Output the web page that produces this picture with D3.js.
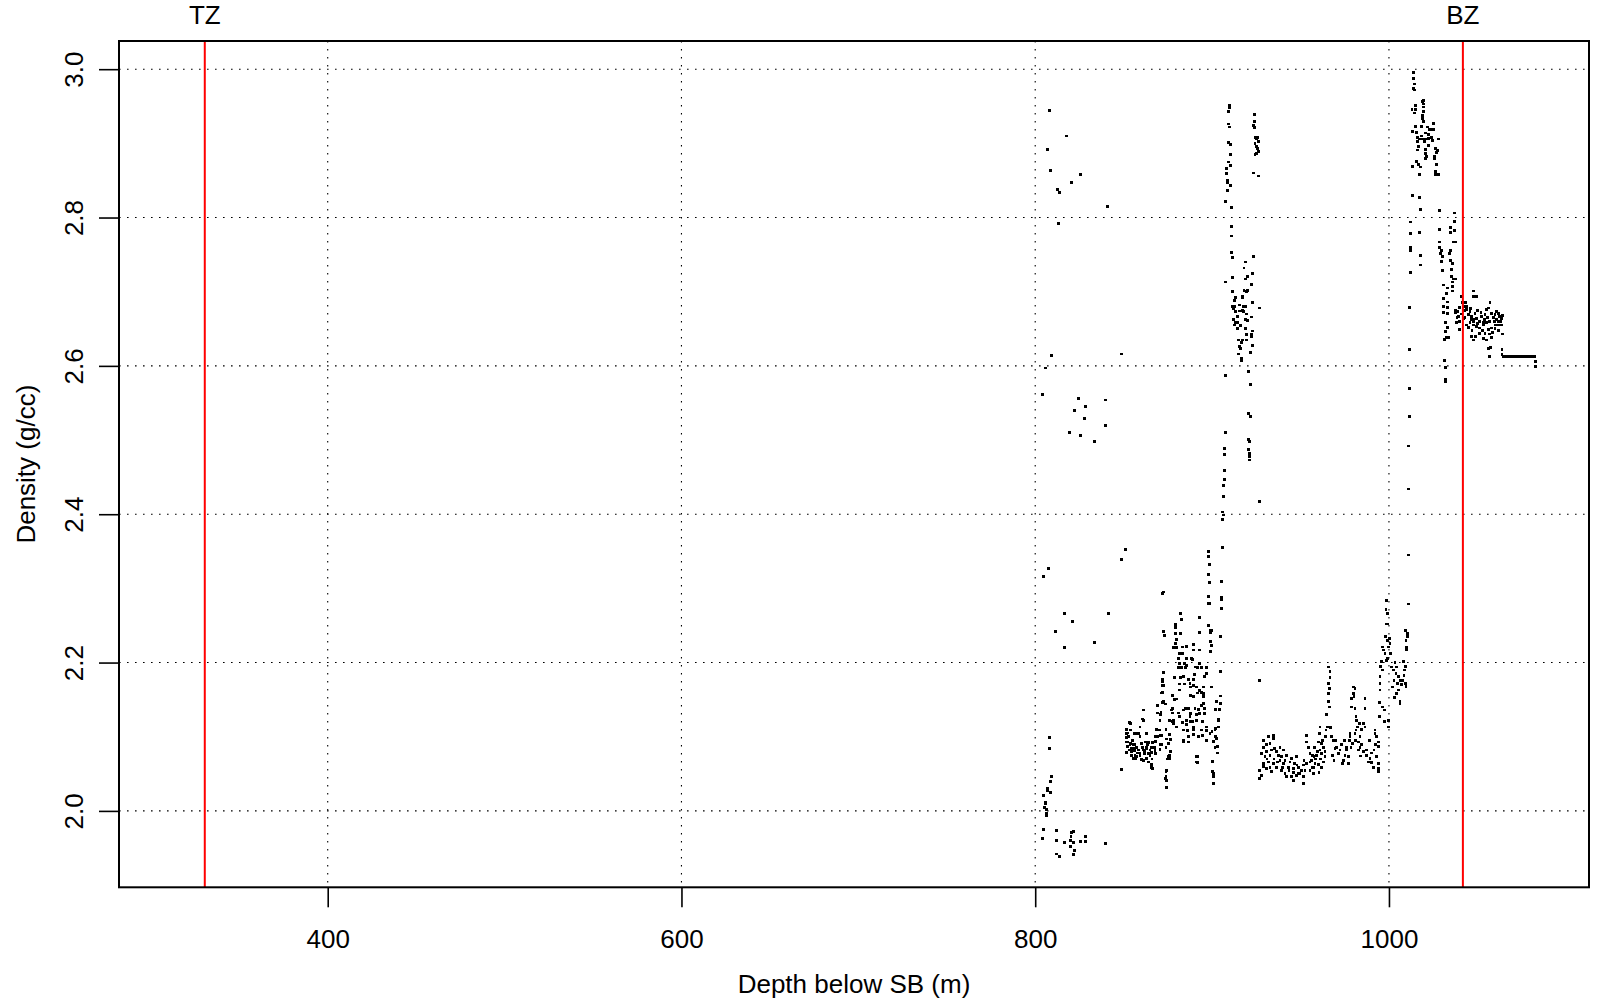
<!DOCTYPE html>
<html><head><meta charset="utf-8">
<script src="https://cdn.jsdelivr.net/npm/d3@7"></script>
<style>body{margin:0;background:#fff}svg{display:block}text{font-family:"Liberation Sans",Arial,Helvetica,sans-serif;fill:#000}</style>
</head><body>
<svg id="chart" width="1599" height="1004"></svg>
<script>
// ---------- axis setup ----------
const xTicks = [400, 600, 800, 1000];
const yTicks = [2.0, 2.2, 2.4, 2.6, 2.8, 3.0];
const xLimits = [282.0, 1113.1];
const yLimits = [1.897, 3.038];
const xTitle = "Depth below SB (m)";
const yTitle = "Density (g/cc)";
const zoneNames = ["TZ", "BZ"];
const zoneDepths = [330.5, 1041.8];

// ---------- data: [depth (m), density (g/cc)] ----------
const pts800 = [
[807.9,2.944],[817.5,2.910],[806.8,2.892],[808.5,2.863],[825.4,2.858],[820.4,2.847],[812.4,2.838],[813.6,2.834],[840.7,2.815],[813.0,2.792],
[809.0,2.614],[848.6,2.616],[805.7,2.597],[804.0,2.561],[824.3,2.556],[839.6,2.554],[828.3,2.545],[822.0,2.540],[827.7,2.529],[839.6,2.520],[819.2,2.510],[825.4,2.506],[833.4,2.498],
[850.9,2.352],[848.6,2.339],[807.3,2.327],[804.5,2.316],[872.5,2.295],[872.0,2.293],[816.4,2.266],[841.3,2.266],[820.9,2.255],[811.3,2.242],[833.4,2.227],[816.4,2.220],
[807.9,2.099],[807.9,2.084],[809.0,2.046],[808.5,2.040],[806.8,2.031],[806.8,2.028],[808.5,2.025],[804.5,2.021],[805.7,2.012],[805.7,2.010],[805.1,2.005],[806.2,2.002],[806.2,1.996],[806.2,1.994],
[804.5,1.975],[804.0,1.963],[811.9,1.974],[811.9,1.960],[816.4,1.957],[820.4,1.971],[821.5,1.972],[820.2,1.965],[819.8,1.960],[821.5,1.957],[825.4,1.959],[828.3,1.965],[828.3,1.959],
[819.8,1.952],[822.0,1.947],[821.5,1.941],[811.9,1.942],[813.6,1.939],[839.6,1.956]
];

const pts850 = [
[882.3,2.266],[882.9,2.258],[892.7,2.261],[879.3,2.251],[879.3,2.247],[872.5,2.242],[873.1,2.236],[879.3,2.239],[882.2,2.239],[892.7,2.240],[899.5,2.243],
[879.9,2.231],[879.3,2.226],[878.2,2.220],[879.9,2.220],[883.3,2.221],[885.5,2.222],[889.3,2.224],[889.3,2.217],[892.7,2.217],[898.9,2.228],[899.5,2.223],[898.9,2.215],
[881.4,2.212],[883.3,2.212],[881.0,2.205],[885.5,2.205],[888.2,2.205],[888.9,2.204],[881.4,2.199],[884.4,2.199],[881.0,2.193],[882.7,2.193],[885.0,2.193],[891.6,2.193],[893.8,2.193],[896.9,2.193],
[904.6,2.188],[872.4,2.187],[890.1,2.184],[895.7,2.181],[878.6,2.180],[882.0,2.180],[872.0,2.177],[872.0,2.169],[886.7,2.177],[889.5,2.177],[881.6,2.171],[884.4,2.171],
[887.8,2.167],[889.5,2.169],[891.2,2.167],[895.2,2.167],[899.5,2.167],[892.9,2.162],[894.0,2.160],[895.2,2.158],[891.8,2.159],[871.2,2.159],[887.6,2.156],[889.5,2.154],[877.4,2.156],[904.6,2.155],
[879.9,2.151],[878.6,2.150],[902.3,2.147],[904.6,2.145],[869.0,2.142],[893.8,2.142],[873.7,2.144],[872.0,2.146],[877.4,2.138],[861.1,2.136],[884.8,2.138],[886.7,2.138],[890.3,2.138],[892.3,2.137],
[895.5,2.138],[895.5,2.131],[901.8,2.137],[904.0,2.137],[869.0,2.132],[877.8,2.132],[880.8,2.132],[887.6,2.131],[891.4,2.130],[860.7,2.124],[870.8,2.130],[875.9,2.122],[877.6,2.120],[878.2,2.118],
[888.9,2.121],[887.6,2.121],[883.3,2.119],[885.4,2.116],[903.6,2.124],[903.6,2.113],[894.6,2.120],[853.5,2.119],[859.2,2.113],[868.4,2.110],[873.9,2.110],[883.7,2.109],[885.9,2.108],
[889.3,2.110],[893.8,2.109],[896.9,2.108],[899.9,2.107],[902.1,2.111],[851.4,2.110],[853.7,2.109],[871.2,2.102],[875.7,2.103],[889.3,2.103],[892.3,2.100],[894.6,2.102],[901.9,2.100],
[876.7,2.096],[852.0,2.105],[851.6,2.099],[852.0,2.093],[856.3,2.104],[857.8,2.104],[853.9,2.091],[855.6,2.089],[862.4,2.093],[864.1,2.092],[866.3,2.092],[867.8,2.094],[869.0,2.100],[874.2,2.097],
[883.7,2.093],[886.7,2.093],[896.9,2.095],[900.6,2.094],[902.9,2.087],[860.7,2.086],[862.9,2.084],[865.8,2.086],[867.6,2.085],[854.5,2.084],[856.3,2.081],[858.6,2.082],[870.5,2.083],[873.9,2.085],
[876.5,2.080],[876.1,2.075],[851.6,2.079],[861.6,2.077],[864.1,2.077],[865.8,2.079],[902.9,2.078],[854.5,2.075],[857.3,2.073],[859.2,2.075],[874.8,2.070],[862.9,2.071],[865.8,2.063],[866.3,2.057],
[891.6,2.073],[891.6,2.065],[900.2,2.067],[900.2,2.053],[861.1,2.068],[848.8,2.056],[873.9,2.053],[873.7,2.044],[873.9,2.031],[900.6,2.046],[900.8,2.037],
[851.3,2.110],[851.7,2.104],[853.9,2.118],[852.8,2.100],[851.7,2.093],[853.6,2.089],[855.4,2.084],[857.3,2.086],[860.2,2.091],[863.0,2.086],[864.9,2.082],[867.7,2.084],[870.5,2.089],
[854.5,2.080],[856.4,2.075],[859.2,2.077],[862.0,2.080],[864.9,2.075],[867.7,2.080],[855.4,2.071],[860.2,2.069],[863.9,2.066],[865.8,2.059],[859.2,2.100],[861.1,2.122],[863.0,2.104],
[858.3,2.104],[867.7,2.100],[870.5,2.102],[871.5,2.089],
[853.0,2.082],[856.0,2.090],[858.0,2.078],[861.0,2.082],[863.5,2.090],[866.0,2.070],[868.0,2.077],[852.0,2.087],[855.0,2.095],[857.0,2.070],
[872.4,2.187],[872.0,2.174],[872.4,2.169],[872.0,2.160],[872.4,2.147],[871.1,2.133],[870.5,2.122],[870.1,2.109],[875.2,2.091],[875.2,2.073],[876.2,2.071],[874.3,2.055],[873.9,2.046],[874.3,2.041],[874.3,2.032],
[877.1,2.136],[878.1,2.122],[880.0,2.113],[881.8,2.127],[883.7,2.136],[885.6,2.122],[887.5,2.127],[889.4,2.113],[891.2,2.122],[893.1,2.131],[895.0,2.145],[896.9,2.113],[898.8,2.104],[901.6,2.109],
[903.5,2.122],[902.6,2.098],[901.6,2.086],[900.7,2.050],[900.7,2.037],[891.2,2.073],[891.2,2.066],[883.7,2.095],[886.5,2.100],[881.8,2.163],[883.7,2.181],[887.5,2.172],[893.1,2.163],[895.0,2.154],
[896.9,2.185],[881.8,2.194],[885.6,2.196],[890.3,2.194],[893.1,2.199]
];

const pts905 = [
[905.7,2.355],[897.8,2.350],[897.8,2.343],[898.4,2.332],[897.8,2.319],[905.1,2.309],[898.4,2.308],[897.8,2.289],[905.1,2.288],[905.1,2.285],[897.8,2.280],[898.4,2.280],[905.1,2.273],[897.8,2.250],[898.9,2.244],[898.9,2.240],[904.6,2.235],
[909.7,2.951],[909.7,2.948],[909.1,2.943],[909.1,2.926],[909.7,2.922],[909.1,2.901],[910.2,2.898],[910.2,2.885],[909.1,2.875],[910.2,2.870],[908.0,2.866],[908.0,2.859],[908.5,2.850],[908.5,2.847],[910.2,2.843],[908.5,2.836],[907.4,2.822],[910.8,2.814],
[910.8,2.788],[910.8,2.775],[910.8,2.753],[911.4,2.746],[911.4,2.719],[907.4,2.713],
[923.8,2.939],[923.8,2.929],[923.2,2.924],[923.8,2.921],[924.3,2.908],[925.5,2.908],[924.9,2.906],[924.3,2.900],[926.1,2.902],[924.9,2.896],[925.5,2.893],[926.1,2.889],[924.9,2.886],[924.3,2.885],[923.2,2.860],[926.1,2.856],
[923.2,2.747],[918.7,2.740],[918.1,2.732],[922.7,2.725],[919.8,2.720],[918.7,2.717],[922.1,2.710],[918.1,2.702],[919.8,2.702],[919.3,2.700],[911.4,2.700],[917.0,2.694],[917.0,2.692],[913.1,2.692],
[912.5,2.688],[922.7,2.685],[915.3,2.682],[911.4,2.680],[912.5,2.680],[917.6,2.680],[918.7,2.680],[926.6,2.678],[911.9,2.677],[917.0,2.675],[915.3,2.674],[913.1,2.673],[917.6,2.673],[919.3,2.670],
[914.2,2.667],[918.7,2.663],[922.1,2.666],[911.9,2.663],[919.8,2.661],[913.1,2.658],[914.2,2.658],[912.5,2.655],[915.9,2.654],[914.2,2.650],[918.7,2.650],[922.7,2.647],[922.1,2.642],[922.1,2.639],
[919.3,2.642],[914.8,2.635],[917.0,2.635],[919.3,2.635],[916.5,2.631],[915.3,2.626],[915.9,2.623],[922.7,2.628],[914.8,2.616],[921.5,2.618],[916.5,2.610],[916.5,2.607],
[907.4,2.587],[920.4,2.592],[921.5,2.575],[920.4,2.536],[921.5,2.532],[907.4,2.510],[920.4,2.501],[921.0,2.498],[906.8,2.489],[906.8,2.481],[920.4,2.487],[921.0,2.482],[921.0,2.478],[921.0,2.473],
[906.8,2.459],[906.8,2.447],[906.3,2.439],[906.3,2.424],[926.6,2.417],[905.7,2.403],[906.3,2.399],[905.7,2.393]
];

const pts926 = [
[926.7,2.176],[934.6,2.102],[934.6,2.098],[928.9,2.086],[930.8,2.089],[932.7,2.091],[935.5,2.084],[938.4,2.086],[940.2,2.082],
[928.0,2.077],[929.9,2.073],[932.7,2.075],[936.5,2.080],[939.3,2.073],[942.1,2.075],[944.9,2.071],[947.8,2.073],
[928.9,2.064],[931.8,2.066],[934.6,2.064],[940.2,2.064],[943.1,2.059],[945.9,2.057],[948.7,2.059],
[927.0,2.055],[928.0,2.048],[927.0,2.044],[933.6,2.053],[941.2,2.050],[944.9,2.046],[947.8,2.048],
[930.8,2.080],[933.6,2.082],[937.4,2.075],[941.2,2.068],[944.0,2.066],[946.8,2.064],[930.8,2.057],[936.5,2.059],[939.3,2.055],[942.1,2.046],[945.9,2.041],[948.7,2.050],[938.4,2.068],[932.7,2.059],[928.9,2.095],[931.8,2.100],
[956.0,2.068],[958.5,2.070],[960.0,2.063],[961.5,2.070],[963.0,2.066],[959.5,2.080],[962.5,2.095],[964.0,2.100],[958.0,2.085],[956.5,2.058],[960.5,2.052],[962.0,2.058],[950.5,2.055],[952.0,2.068],
[948.0,2.062],[946.0,2.052],[943.5,2.054],[940.0,2.058],[937.0,2.066],[935.0,2.070],[931.0,2.070],[929.0,2.060],
[970.0,2.095],[973.0,2.090],[975.0,2.095],[978.5,2.085],[981.0,2.095],[984.5,2.090],[987.5,2.082],[990.0,2.078],[992.5,2.090],[989.0,2.095],
[1010.9,2.492],[1010.9,2.434],[1010.9,2.345],[1010.9,2.279],
[1009.2,2.243],[1010.4,2.239],[1010.4,2.235],[1009.6,2.230],[1009.8,2.221],[1009.8,2.218],
[998.7,2.284],[998.3,2.271],[999.1,2.266],[998.3,2.252],[999.1,2.252],
[998.1,2.235],[999.1,2.230],[1000.2,2.232],[1000.6,2.226],[999.6,2.221],
[996.4,2.221],[996.8,2.217],[997.8,2.212],[1000.9,2.212],[999.1,2.206],[998.7,2.203],
[995.7,2.201],[995.3,2.195],[996.4,2.190],[994.9,2.181],[994.9,2.172],[994.9,2.163],
[1001.5,2.194],[1002.4,2.190],[1003.4,2.200],[1004.3,2.194],[1004.0,2.185],[1005.3,2.181],[1002.8,2.176],[1004.7,2.172],[1006.2,2.176],[1007.2,2.170],[1007.7,2.176],[1008.5,2.183],[1009.0,2.190],[1008.1,2.201],[1009.2,2.195],
[1002.1,2.167],[1003.0,2.153],[1004.3,2.158],[1006.2,2.147],[1006.2,2.145],[1005.5,2.163],[1009.2,2.172],[1009.6,2.168],
[994.5,2.146],[996.4,2.140],[997.4,2.136],[994.5,2.127],[997.4,2.120],[999.8,2.113],[999.6,2.122],
[992.1,2.109],[992.1,2.104],[993.0,2.100],[994.2,2.093],[994.2,2.087],[991.5,2.082],[993.0,2.073],[994.2,2.064],[991.1,2.059],[994.0,2.057],[994.0,2.053],
[985.5,2.118],[986.4,2.113],[984.6,2.110],[983.6,2.100],[982.7,2.093],[983.6,2.086],[982.7,2.082],[985.5,2.080],[984.0,2.074],[987.4,2.075],[989.3,2.071],[988.3,2.066],[990.2,2.065],
[979.8,2.167],[980.8,2.165],[979.8,2.158],[978.9,2.152],[980.2,2.154],[978.9,2.140],[980.8,2.138],[981.4,2.127],[981.7,2.122],[983.2,2.118],[982.1,2.113],[981.4,2.109],
[986.4,2.152],[986.4,2.138],
[980.8,2.104],[978.0,2.104],[978.0,2.100],[977.6,2.095],[979.5,2.091],[976.1,2.086],[976.1,2.082],[975.1,2.075],[974.2,2.068],[977.0,2.073],[977.0,2.064],[973.6,2.064],[970.4,2.086],[972.3,2.082],[971.4,2.077],[969.5,2.084],[968.5,2.095],[967.6,2.100],[968.2,2.075],[968.9,2.068],
[965.7,2.194],[966.7,2.188],[966.7,2.180],[965.7,2.172],[966.3,2.165],[965.7,2.158],[965.7,2.147],[966.3,2.140],[964.8,2.130],[965.2,2.113],[967.0,2.112],[964.4,2.109],
[961.0,2.113],[960.6,2.104],[960.1,2.093],[962.0,2.091],[962.9,2.086],[963.8,2.080],[961.0,2.082],[959.1,2.075],[962.0,2.077],[963.8,2.073],
[953.5,2.102],[953.5,2.093],[954.4,2.086],[955.4,2.077],[956.9,2.075],[957.6,2.073],[958.2,2.064],[955.4,2.066],[957.2,2.059],[953.5,2.064],[951.6,2.062],[952.5,2.055],[955.4,2.055],[957.2,2.050],[951.6,2.046],[951.6,2.037],[949.7,2.050]
];

const pts1010 = [
[1013.8,2.996],[1013.8,2.987],[1014.3,2.980],[1013.8,2.974],[1014.3,2.972],
[1014.9,2.951],[1013.0,2.946],[1014.9,2.946],[1014.3,2.941],
[1019.4,2.958],[1018.8,2.956],[1019.4,2.953],[1019.4,2.949],[1019.4,2.943],[1018.8,2.938],[1018.8,2.933],[1019.4,2.929],
[1014.9,2.923],[1018.3,2.923],[1013.2,2.916],[1015.5,2.915],
[1021.7,2.922],[1022.8,2.919],[1023.9,2.919],[1025.1,2.927],[1025.1,2.919],
[1020.5,2.914],[1022.2,2.912],[1018.3,2.910],[1016.0,2.908],[1017.1,2.906],[1018.8,2.906],[1020.5,2.906],[1022.2,2.907],[1023.9,2.908],[1024.5,2.904],[1020.0,2.902],[1027.9,2.906],
[1016.0,2.902],[1016.6,2.896],[1016.0,2.891],[1022.2,2.897],[1020.5,2.892],[1026.2,2.893],[1027.3,2.890],[1026.8,2.888],
[1020.5,2.886],[1021.3,2.882],[1020.5,2.880],[1025.6,2.882],[1025.6,2.879],
[1015.5,2.876],[1013.2,2.869],[1016.6,2.872],[1017.7,2.868],[1026.8,2.872],
[1017.1,2.858],[1026.2,2.862],[1026.2,2.858],[1027.9,2.858],
[1013.2,2.830],[1017.1,2.827],[1017.7,2.811],[1028.5,2.809],
[1036.9,2.806],[1036.9,2.795],[1034.7,2.787],[1036.9,2.782],[1034.7,2.780],
[1012.4,2.794],[1012.4,2.779],[1017.1,2.780],[1028.5,2.784],
[1028.5,2.767],[1028.5,2.760],[1029.6,2.756],[1029.0,2.752],
[1036.4,2.767],[1037.5,2.767],[1034.7,2.756],[1034.1,2.752],
[1012.1,2.760],[1012.1,2.756],[1017.7,2.749],[1017.7,2.736],
[1030.1,2.747],[1029.6,2.741],[1034.7,2.742],[1035.8,2.738],[1035.2,2.730],[1030.1,2.729],
[1035.2,2.721],[1036.4,2.717],[1037.5,2.717],[1035.8,2.713],[1035.8,2.707],[1012.1,2.726],
[1030.7,2.709],[1033.0,2.705],[1032.6,2.698],[1035.8,2.701],[1040.9,2.694],[1030.7,2.691],[1033.0,2.686],
[1047.9,2.701],[1047.7,2.694],[1049.6,2.693],[1011.5,2.679],
[1030.7,2.680],[1033.0,2.679],[1030.7,2.672],[1033.0,2.671],
[1041.5,2.685],[1043.3,2.685],[1042.0,2.680],[1039.8,2.679],[1038.6,2.673],[1037.5,2.672],
[1043.9,2.676],[1045.8,2.673],[1044.8,2.669],[1046.7,2.667],[1048.6,2.671],[1047.7,2.662],[1049.6,2.664],[1052.4,2.667],[1054.3,2.669],[1055.2,2.676],[1056.2,2.678],[1057.1,2.685],
[1058.0,2.671],[1059.9,2.669],[1060.9,2.673],[1061.8,2.671],[1062.7,2.667],[1063.7,2.664],[1061.8,2.660],[1059.9,2.655],[1062.7,2.655],
[1039.2,2.667],[1040.1,2.660],[1038.3,2.658],[1039.8,2.649],[1042.0,2.664],
[1045.8,2.658],[1047.7,2.655],[1049.6,2.653],[1051.4,2.651],[1053.3,2.655],[1055.2,2.658],[1056.2,2.649],[1058.0,2.651],[1051.4,2.644],[1054.3,2.644],
[1046.7,2.640],[1047.7,2.635],[1053.3,2.637],[1055.2,2.635],[1058.6,2.645],[1064.1,2.643],
[1044.0,2.680],[1046.0,2.677],[1050.0,2.675],[1052.0,2.672],[1054.0,2.662],[1057.0,2.660],[1059.0,2.665],[1061.0,2.662],[1063.0,2.660],[1048.0,2.660],[1050.0,2.657],[1043.0,2.665],
[1041.0,2.670],[1045.0,2.652],[1053.0,2.648],[1057.0,2.643],[1060.0,2.650],[1062.0,2.648],[1064.0,2.668],[1058.0,2.638],[1049.0,2.640],[1044.0,2.655],[1040.0,2.678],[1037.5,2.675],
[1042.5,2.675],[1046.5,2.662],[1051.0,2.660],[1055.5,2.665],[1059.5,2.660],[1063.5,2.655],[1038.5,2.665],[1047.0,2.648],[1053.5,2.658],[1061.0,2.655],
[1031.8,2.658],[1033.0,2.652],[1031.8,2.646],[1032.6,2.638],[1033.5,2.638],[1031.3,2.636],
[1057.3,2.625],[1056.3,2.623],[1056.7,2.613],[1063.9,2.622],[1063.9,2.615],
[1082.7,2.606],[1082.7,2.599],[1011.5,2.622],[1031.3,2.607],[1031.8,2.598],[1031.8,2.582],[1031.8,2.579],
[1011.5,2.570],[1011.5,2.532],[1010.9,2.492]
];

// constant-value run at the bottom of the log
const flatDepths = [1064.6,1065.2,1065.8,1066.4,1067.0,1067.6,1068.2,1068.8,1069.4,1070.0,1070.6,1071.2,1071.8,1072.4,1073.0,1073.6,1074.2,1074.8,1075.4,1076.0,1076.6,1077.2,1077.8,1078.4,1079.0,1079.6,1080.2,1080.8,1081.4,1082.0,1082.6];
const flatDensity = 2.613;

// ---------- drawing ----------
const W = 1599, H = 1004;
const m = {left: 119, top: 41, right: 10, bottom: 116.7};
const svg = d3.select("#chart");
const x = d3.scaleLinear().domain(xLimits).range([m.left, W - m.right]);
const y = d3.scaleLinear().domain(yLimits).range([H - m.bottom, m.top]);
const FS = 26;

const points = [].concat(pts800, pts850, pts905, pts926, pts1010, flatDepths.map(d => [d, flatDensity]));

// grid
const grid = svg.append("g").attr("stroke", "#000").attr("stroke-width", 1.1).attr("stroke-dasharray", "1.6,6.4");
grid.selectAll("line.v").data(xTicks).join("line").attr("class", "v")
  .attr("x1", d => x(d)).attr("x2", d => x(d)).attr("y1", m.top).attr("y2", H - m.bottom);
grid.selectAll("line.h").data(yTicks).join("line").attr("class", "h")
  .attr("y1", d => y(d)).attr("y2", d => y(d)).attr("x1", m.left).attr("x2", W - m.right);

// points
const ps = 2.8;
svg.append("g").attr("shape-rendering", "crispEdges").selectAll("rect").data(points).join("rect")
  .attr("x", d => x(d[0]) - ps / 2).attr("y", d => y(d[1]) - ps / 2)
  .attr("width", ps).attr("height", ps).attr("fill", "#000");

// zone lines
svg.append("g").selectAll("line").data(zoneDepths).join("line")
  .attr("x1", d => x(d)).attr("x2", d => x(d)).attr("y1", m.top).attr("y2", H - m.bottom)
  .attr("stroke", "#ff0000").attr("stroke-width", 2);
svg.append("g").selectAll("text").data(zoneDepths).join("text")
  .attr("x", d => x(d)).attr("y", 24).attr("text-anchor", "middle").attr("font-size", FS)
  .text((d, i) => zoneNames[i]);

// axes
const gx = svg.append("g").attr("transform", `translate(0,${H - m.bottom})`)
  .call(d3.axisBottom(x).tickValues(xTicks).tickSize(20).tickFormat(d3.format("d")));
gx.select(".domain").remove();
gx.selectAll(".tick line").attr("stroke", "#000").attr("stroke-width", 1.6);
gx.selectAll(".tick text").attr("y", 60.4).attr("dy", null).attr("font-size", FS)
  .attr("font-family", '"Liberation Sans",Arial,sans-serif').attr("fill", "#000");

const gy = svg.append("g").attr("transform", `translate(${m.left},0)`)
  .call(d3.axisLeft(y).tickValues(yTicks).tickSize(20).tickFormat(d3.format(".1f")));
gy.select(".domain").remove();
gy.selectAll(".tick line").attr("stroke", "#000").attr("stroke-width", 1.6);
gy.selectAll(".tick text").attr("transform", "rotate(-90)").attr("x", 0).attr("y", -35.7)
  .attr("dy", null).attr("text-anchor", "middle").attr("font-size", FS)
  .attr("font-family", '"Liberation Sans",Arial,sans-serif').attr("fill", "#000");

// box
svg.append("rect").attr("x", m.left).attr("y", m.top)
  .attr("width", W - m.right - m.left).attr("height", H - m.bottom - m.top)
  .attr("fill", "none").attr("stroke", "#000").attr("stroke-width", 2);

// titles
svg.append("text").attr("x", (m.left + W - m.right) / 2).attr("y", 993.3)
  .attr("text-anchor", "middle").attr("font-size", FS).text(xTitle);
svg.append("text").attr("transform", `translate(35,${(m.top + H - m.bottom) / 2}) rotate(-90)`)
  .attr("text-anchor", "middle").attr("font-size", FS).text(yTitle);
</script>
</body></html>
